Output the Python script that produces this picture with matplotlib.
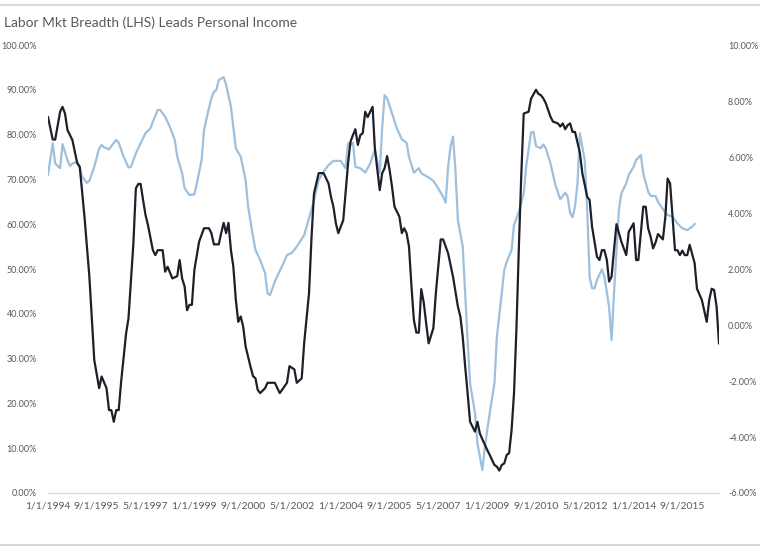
import matplotlib
matplotlib.use('Agg')
import matplotlib.pyplot as plt
from matplotlib.lines import Line2D
from matplotlib.ticker import FuncFormatter
import pandas as pd

# Labor market breadth, % (left axis)
breadth_dates = [
    '1994-01', '1994-03', '1994-04', '1994-06', '1994-07', '1994-08', '1994-09', '1994-11',
    '1995-01', '1995-02', '1995-04', '1995-06', '1995-08', '1995-10', '1995-11', '1996-01',
    '1996-02', '1996-03', '1996-04', '1996-05', '1996-06', '1996-07', '1996-09', '1996-10',
    '1996-12', '1997-01', '1997-02', '1997-03', '1997-04', '1997-05', '1997-06', '1997-08',
    '1997-09', '1997-10', '1997-12', '1998-01', '1998-02', '1998-04', '1998-06', '1998-07',
    '1998-08', '1998-09', '1998-10', '1998-11', '1998-12', '1999-01', '1999-03', '1999-05',
    '1999-07', '1999-08', '1999-09', '1999-11', '1999-12', '2000-01', '2000-02', '2000-03',
    '2000-04', '2000-05', '2000-06', '2000-07', '2000-08', '2000-09', '2000-10', '2000-12',
    '2001-01', '2001-02', '2001-03', '2001-04', '2001-06', '2001-07', '2001-10', '2001-11',
    '2001-12', '2002-03', '2002-04', '2002-06', '2002-07', '2002-09', '2002-10', '2002-12',
    '2003-01', '2003-02', '2003-04', '2003-06', '2003-08', '2003-09', '2003-10', '2003-11',
    '2003-12', '2004-02', '2004-03', '2004-04', '2004-05', '2004-06', '2004-07', '2004-08',
    '2004-09', '2004-10', '2004-11', '2004-12', '2005-02', '2005-03', '2005-05', '2005-06',
    '2005-07', '2005-08', '2005-09', '2005-10', '2005-11', '2006-01', '2006-02', '2006-03',
    '2006-04', '2006-05', '2006-06', '2006-07', '2006-08', '2006-09', '2006-10', '2006-11',
    '2006-12', '2007-01', '2007-03', '2007-04', '2007-06', '2007-07', '2007-09', '2007-11',
    '2008-01', '2008-02', '2008-03', '2008-04', '2008-05', '2008-06', '2008-07', '2008-08',
    '2008-09', '2008-10', '2008-11', '2009-01', '2009-02', '2009-04', '2009-05', '2009-06',
    '2009-07', '2009-08', '2009-09', '2009-10', '2009-11', '2009-12', '2010-01', '2010-02',
    '2010-03', '2010-04', '2010-06', '2010-07', '2010-09', '2010-10', '2010-11', '2010-12',
    '2011-01', '2011-03', '2011-04', '2011-06', '2011-07', '2011-08', '2011-09', '2011-10',
    '2011-11', '2011-12', '2012-01', '2012-03', '2012-04', '2012-06', '2012-07', '2012-08',
    '2012-10', '2012-11', '2012-12', '2013-01', '2013-02', '2013-03', '2013-04', '2013-05',
    '2013-06', '2013-08', '2013-10', '2013-11', '2014-01', '2014-02', '2014-03', '2014-05',
    '2014-06', '2014-07', '2014-08', '2014-09', '2014-10', '2014-11', '2015-01', '2015-02',
    '2015-03', '2015-04', '2015-06', '2015-07', '2015-08', '2015-09', '2015-10', '2015-11',
    '2015-12', '2016-02', '2016-03', '2016-05', '2016-07', '2016-08', '2016-09', '2016-10',
    '2016-11', '2016-12',
]
breadth_values = [
    83.9, 78.9, 78.9, 85.1, 86.2, 84.7, 81.0, 78.8,
    73.6, 72.8, 61.7, 48.3, 29.7, 23.4, 26.0, 23.4,
    18.5, 18.5, 15.9, 18.5, 18.5, 24.8, 35.6, 39.0,
    55.7, 68.0, 69.0, 69.0, 65.4, 62.1, 59.8, 54.2,
    53.1, 54.2, 54.2, 49.4, 50.5, 47.9, 48.4, 52.0,
    47.9, 46.1, 40.8, 42.0, 42.0, 49.8, 56.1, 59.1,
    59.1, 58.0, 55.5, 55.5, 58.0, 60.3, 58.0, 60.3,
    54.2, 50.5, 43.1, 38.2, 39.4, 37.1, 32.7, 28.2,
    26.1, 25.6, 23.0, 22.3, 23.4, 24.6, 24.6, 23.4,
    22.3, 24.6, 28.3, 27.6, 24.6, 25.6, 33.4, 44.6,
    57.0, 66.9, 71.4, 71.4, 69.1, 66.1, 63.9, 60.2,
    58.0, 60.9, 66.9, 73.6, 78.4, 79.9, 81.2, 77.7,
    79.9, 80.3, 85.1, 83.9, 86.2, 77.0, 67.6, 71.4,
    72.5, 75.2, 72.1, 68.4, 63.9, 61.7, 58.0, 59.1,
    58.0, 55.0, 46.1, 38.6, 35.8, 35.8, 45.5, 42.5,
    37.9, 33.4, 36.8, 44.6, 56.6, 56.6, 53.5, 48.3,
    41.6, 39.4, 34.9, 28.2, 22.3, 15.9, 14.8, 13.7,
    15.9, 13.3, 12.0, 9.6, 8.5, 6.25, 5.9, 5.0,
    6.25, 6.6, 8.5, 8.9, 14.1, 22.3, 37.1, 55.7,
    70.6, 84.7, 85.1, 88.0, 90.0, 89.1, 88.8, 88.1,
    87.0, 84.0, 82.9, 82.5, 81.8, 82.5, 81.2, 82.1,
    82.5, 80.6, 80.6, 76.0, 71.4, 66.1, 65.4, 59.4,
    52.7, 52.0, 54.2, 54.2, 52.0, 47.2, 48.3, 54.2,
    60.0, 56.1, 53.1, 58.3, 60.2, 52.0, 52.0, 63.9,
    63.9, 59.1, 57.2, 54.6, 55.9, 57.8, 56.6, 61.7,
    70.2, 69.1, 54.2, 54.2, 53.1, 54.1, 53.1, 53.1,
    55.4, 51.3, 45.6, 43.1, 38.2, 43.1, 45.6, 45.3,
    41.6, 33.4,
]

# Personal income growth, % (right axis)
income_dates = [
    '1994-01', '1994-03', '1994-04', '1994-06', '1994-07', '1994-09', '1994-10', '1994-11',
    '1995-01', '1995-02', '1995-03', '1995-05', '1995-06', '1995-08', '1995-10', '1995-11',
    '1995-12', '1996-02', '1996-03', '1996-05', '1996-06', '1996-08', '1996-10', '1996-11',
    '1997-01', '1997-03', '1997-05', '1997-07', '1997-08', '1997-10', '1997-11', '1998-01',
    '1998-03', '1998-05', '1998-06', '1998-08', '1998-09', '1998-11', '1999-01', '1999-02',
    '1999-04', '1999-05', '1999-07', '1999-08', '1999-09', '1999-10', '1999-11', '2000-01',
    '2000-02', '2000-04', '2000-05', '2000-06', '2000-08', '2000-10', '2000-11', '2001-01',
    '2001-02', '2001-04', '2001-06', '2001-07', '2001-08', '2001-10', '2001-11', '2002-01',
    '2002-03', '2002-05', '2002-07', '2002-10', '2002-12', '2003-02', '2003-04', '2003-06',
    '2003-08', '2003-10', '2004-01', '2004-03', '2004-04', '2004-05', '2004-06', '2004-07',
    '2004-09', '2004-11', '2005-01', '2005-03', '2005-05', '2005-06', '2005-07', '2005-08',
    '2005-10', '2005-12', '2006-02', '2006-04', '2006-05', '2006-07', '2006-09', '2006-10',
    '2006-12', '2007-01', '2007-03', '2007-05', '2007-07', '2007-08', '2007-09', '2007-10',
    '2007-11', '2007-12', '2008-01', '2008-03', '2008-04', '2008-05', '2008-06', '2008-08',
    '2008-09', '2008-11', '2008-12', '2009-01', '2009-02', '2009-04', '2009-05', '2009-07',
    '2009-08', '2009-09', '2009-11', '2009-12', '2010-02', '2010-04', '2010-05', '2010-07',
    '2010-08', '2010-09', '2010-11', '2010-12', '2011-01', '2011-03', '2011-05', '2011-07',
    '2011-09', '2011-10', '2011-11', '2011-12', '2012-01', '2012-02', '2012-03', '2012-05',
    '2012-06', '2012-07', '2012-08', '2012-09', '2012-10', '2012-12', '2013-01', '2013-03',
    '2013-04', '2013-05', '2013-07', '2013-08', '2013-10', '2013-11', '2014-01', '2014-02',
    '2014-04', '2014-05', '2014-07', '2014-08', '2014-10', '2014-11', '2015-02', '2015-03',
    '2015-05', '2015-07', '2015-09', '2015-11', '2016-01', '2016-02',
]
income_values = [
    5.36, 6.49, 5.77, 5.60, 6.46, 5.89, 5.68, 5.77,
    5.83, 5.65, 5.30, 5.08, 5.15, 5.65, 6.31, 6.43,
    6.35, 6.27, 6.39, 6.61, 6.51, 6.01, 5.63, 5.65,
    6.13, 6.49, 6.85, 7.02, 7.26, 7.68, 7.68, 7.44,
    7.08, 6.61, 6.01, 5.42, 4.88, 4.64, 4.67, 5.06,
    5.89, 6.96, 7.74, 8.10, 8.33, 8.39, 8.75, 8.85,
    8.57, 7.80, 7.08, 6.31, 6.01, 5.18, 4.23, 3.16,
    2.68, 2.32, 1.85, 1.13, 1.07, 1.55, 1.75, 2.11,
    2.50, 2.58, 2.80, 3.21, 3.81, 4.46, 5.18, 5.48,
    5.71, 5.86, 5.86, 5.60, 6.49, 6.43, 6.51, 5.65,
    5.60, 5.44, 5.77, 6.25, 5.42, 7.08, 8.21, 8.10,
    7.56, 7.02, 6.63, 6.51, 6.01, 5.44, 5.60, 5.42,
    5.32, 5.27, 5.15, 4.88, 4.58, 4.37, 5.65, 6.37,
    6.73, 5.54, 3.75, 2.80, 1.13, -0.54, -2.08, -3.15,
    -4.23, -5.18, -4.40, -3.75, -3.15, -2.08, -0.42, 1.13,
    1.96, 2.26, 2.68, 3.57, 4.05, 4.70, 5.65, 6.87,
    6.90, 6.39, 6.31, 6.45, 6.31, 5.77, 5.00, 4.49,
    4.73, 4.58, 3.99, 3.85, 4.23, 5.06, 6.85, 5.89,
    4.11, 1.73, 1.31, 1.31, 1.61, 1.99, 1.73, 0.65,
    -0.54, 1.13, 4.11, 4.70, 5.06, 5.36, 5.65, 5.89,
    6.07, 5.42, 4.76, 4.61, 4.61, 4.40, 4.01, 3.93,
    3.87, 3.63, 3.45, 3.39, 3.51, 3.61,
]

x_tick_labels = ['1/1/1994', '9/1/1995', '5/1/1997', '1/1/1999', '9/1/2000',
                 '5/1/2002', '1/1/2004', '9/1/2005', '5/1/2007', '1/1/2009',
                 '9/1/2010', '5/1/2012', '1/1/2014', '9/1/2015']
left_ticks = [0, 10, 20, 30, 40, 50, 60, 70, 80, 90, 100]
right_ticks = [-6, -4, -2, 0, 2, 4, 6, 8, 10]

title = 'Labor Mkt Breadth (LHS) Leads Personal Income'

TXT = '#595959'
FONT = 'Lato'

bx = pd.to_datetime(breadth_dates)
ix = pd.to_datetime(income_dates)
xt = pd.to_datetime(x_tick_labels, format='%m/%d/%Y')

fig = plt.figure(figsize=(7.6, 5.56), dpi=100)
ax = fig.add_axes([48 / 760, 1 - 493 / 556, (719 - 48) / 760, (493 - 45) / 556])
ax2 = ax.twinx()

ax2.plot(ix, income_values, color='#9dc0de', lw=1.6, solid_joinstyle='round')
ax.plot(bx, breadth_values, color='#1e2029', lw=1.6, solid_joinstyle='round')
ax.set_zorder(ax2.get_zorder() + 1)
ax.patch.set_visible(False)

ax.set_xlim(bx[0], bx[-1])
ax.set_ylim(0, 100)
ax2.set_ylim(-6, 10)
ax.set_yticks(left_ticks)
ax2.set_yticks(right_ticks)
ax.yaxis.set_major_formatter(FuncFormatter(lambda v, p: f'{v:.2f}%'))
ax2.yaxis.set_major_formatter(FuncFormatter(lambda v, p: f'{v:.2f}%'))
ax.set_xticks(xt)
ax.set_xticklabels(x_tick_labels)

for a in (ax, ax2):
    for s in a.spines.values():
        s.set_visible(False)
    a.tick_params(length=0, labelsize=6.5, labelcolor=TXT)
    for lab in a.get_xticklabels() + a.get_yticklabels():
        lab.set_fontfamily(FONT)
ax.spines['bottom'].set_visible(True)
ax.spines['bottom'].set_color('#d9d9d9')
ax.spines['bottom'].set_linewidth(1.0)
ax.tick_params(axis='y', pad=8)
ax.tick_params(axis='x', pad=6, labelsize=7.5)
ax2.tick_params(axis='y', pad=6.5)

fig.text(4 / 760, 1 - 23 / 556, title, fontsize=9.9, color=TXT,
         family=FONT, va='center', ha='left')

# chart frame lines
for yy in (5, 545):
    fig.add_artist(Line2D([0, 1], [1 - yy / 556] * 2, color='#d9d9d9', lw=1.5))

fig.savefig('out.png', dpi=100)
